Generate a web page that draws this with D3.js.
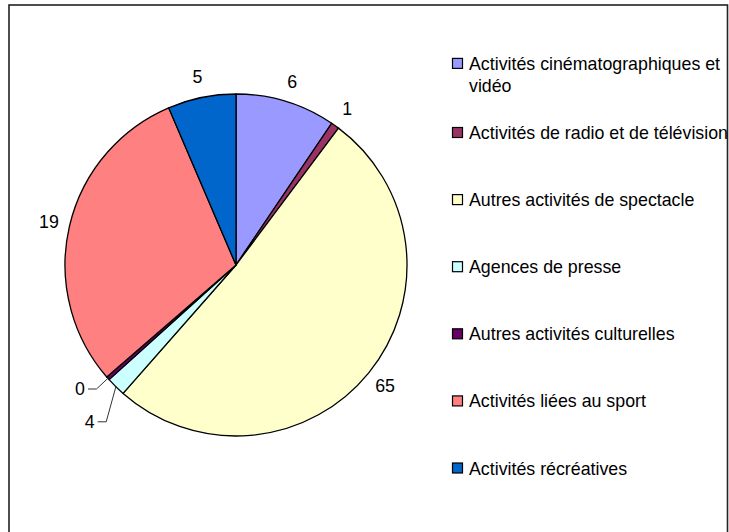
<!DOCTYPE html>
<html>
<head>
<meta charset="utf-8">
<script src="https://cdn.jsdelivr.net/npm/d3@7"></script>
<style>
  html, body { margin: 0; padding: 0; background: #fff; }
  svg { display: block; }
  text { font-family: "Liberation Sans", Arial, sans-serif; fill: #000; }
</style>
</head>
<body>
<svg id="chart" width="729" height="532"></svg>
<script>
const categories = [
  "Activités cinématographiques et vidéo",
  "Activités de radio et de télévision",
  "Autres activités de spectacle",
  "Agences de presse",
  "Autres activités culturelles",
  "Activités liées au sport",
  "Activités récréatives"
];
// slice sizes (angular share, %)
const shares = [9.45, 0.78, 51.25, 1.83, 0.33, 29.92, 6.44];
// data labels printed next to the slices
const dataLabels = ["6", "1", "65", "4", "0", "19", "5"];
const colors = ["#9999FF", "#993366", "#FFFFCC", "#CCFFFF", "#660066", "#FF8080", "#0066CC"];

const svg = d3.select("#chart");
const FONT = 17.8;

// frame
svg.append("rect")
  .attr("x", 9).attr("y", 5)
  .attr("width", 718.5).attr("height", 560)
  .attr("fill", "#fff").attr("stroke", "#222").attr("stroke-width", 1.6);

const cx = 236, cy = 265, R = 171;
const g = svg.append("g").attr("transform", `translate(${cx},${cy})`);

const pie = d3.pie().sort(null).value(d => d).startAngle(0).endAngle(2 * Math.PI);
const arcs = pie(shares);
const arc = d3.arc().innerRadius(0).outerRadius(R);

g.selectAll("path.slice").data(arcs).enter().append("path")
  .attr("class", "slice")
  .attr("d", arc)
  .attr("fill", (d, i) => colors[i])
  .attr("stroke", "#000")
  .attr("stroke-width", 1.3)
  .attr("stroke-linejoin", "round");

// data labels
const labelR = 192;
const overrides = { 3: [89.7, 421.8], 4: [80, 389] }; // displaced labels with leader lines
arcs.forEach((d, i) => {
  const mid = (d.startAngle + d.endAngle) / 2;
  let x, y;
  if (overrides[i]) {
    [x, y] = overrides[i];
    const px = cx + R * Math.sin(mid), py = cy - R * Math.cos(mid);
    svg.append("polyline")
      .attr("points", `${x + 8},${y} ${x + 16.5},${y} ${px},${py}`)
      .attr("fill", "none").attr("stroke", "#333").attr("stroke-width", 1);
  } else {
    x = cx + labelR * Math.sin(mid);
    y = cy - labelR * Math.cos(mid);
  }
  svg.append("text")
    .attr("x", x).attr("y", y).attr("dy", "0.36em")
    .attr("text-anchor", "middle")
    .style("font-size", FONT + "px")
    .text(dataLabels[i]);
});

// legend
const legendY = d3.scaleLinear().domain([1, categories.length - 1]).range([139, 474.5]);
const maxW = 268, lineH = 22;
const leg = svg.append("g");
categories.forEach((c, i) => {
  const t = leg.append("text")
    .attr("x", 469)
    .style("font-size", FONT + "px");
  // wrap words
  const words = c.split(" ");
  let lines = [], cur = "";
  const probe = leg.append("text").style("font-size", FONT + "px");
  words.forEach(w => {
    const test = cur ? cur + " " + w : w;
    probe.text(test);
    if (probe.node().getComputedTextLength() > maxW && cur) { lines.push(cur); cur = w; }
    else cur = test;
  });
  lines.push(cur);
  probe.remove();
  const base = legendY(i) - (lines.length > 1 ? 2 : 0);
  t.attr("y", base);
  lines.forEach((l, k) => {
    t.append("tspan").attr("x", 469).attr("y", base + k * lineH).text(l);
  });
  leg.append("rect")
    .attr("x", 452.5).attr("y", base - 11.5)
    .attr("width", 10).attr("height", 10)
    .attr("fill", colors[i]).attr("stroke", "#000").attr("stroke-width", 1.2);
});
</script>
</body>
</html>
